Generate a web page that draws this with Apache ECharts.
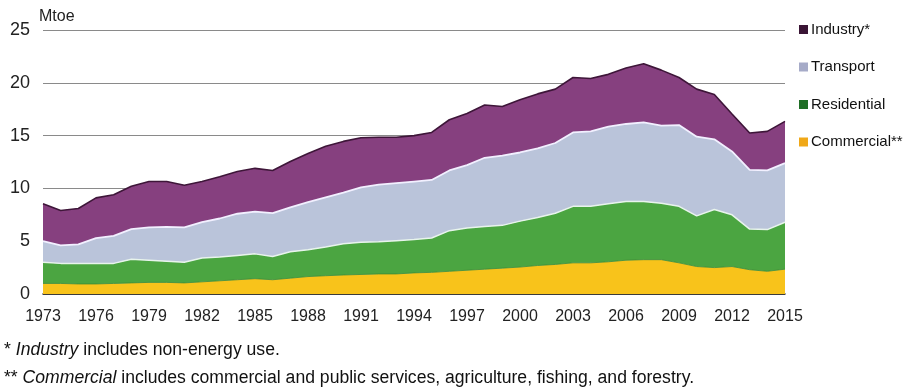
<!DOCTYPE html>
<html><head><meta charset="utf-8">
<script src="https://cdn.jsdelivr.net/npm/echarts@6/dist/echarts.min.js"></script>
<style>
html,body{margin:0;padding:0;background:#fff;}
#c{width:914px;height:392px;}
.fn{position:absolute;left:4px;font-family:"Liberation Sans Narrow","Arial Narrow","Liberation Sans",Arial,sans-serif;font-size:17.6px;color:#111;white-space:nowrap;}
</style></head><body>
<div id="c"></div>
<div class="fn" style="top:339px;">* <i>Industry</i> includes non-energy use.</div>
<div class="fn" style="top:367px;">** <i>Commercial</i> includes commercial and public services, agriculture, fishing, and forestry.</div>
<script>
const years = [];
for (let y = 1973; y <= 2015; y++) years.push(String(y));
const commercial = [1.0,1.0,0.95,0.95,1.0,1.05,1.1,1.1,1.05,1.15,1.25,1.35,1.45,1.35,1.5,1.65,1.73,1.8,1.85,1.9,1.9,2.0,2.05,2.15,2.25,2.35,2.45,2.55,2.7,2.8,2.95,2.95,3.05,3.2,3.25,3.25,2.95,2.6,2.5,2.6,2.3,2.15,2.35];
const residential = [2.0,1.9,1.95,1.95,1.9,2.25,2.1,2.0,1.95,2.25,2.25,2.3,2.35,2.2,2.5,2.55,2.72,2.95,3.05,3.05,3.15,3.15,3.25,3.85,4.0,4.05,4.05,4.35,4.55,4.85,5.35,5.35,5.5,5.55,5.5,5.35,5.35,4.8,5.5,4.9,3.85,3.95,4.45];
const transport = [2.0,1.7,1.8,2.4,2.6,2.85,3.1,3.25,3.3,3.4,3.65,3.95,4.0,4.1,4.2,4.5,4.7,4.85,5.2,5.4,5.45,5.5,5.5,5.7,5.95,6.5,6.6,6.5,6.55,6.65,7.0,7.1,7.3,7.35,7.5,7.35,7.7,7.5,6.65,6.0,5.6,5.6,5.6];
const industry = [3.55,3.3,3.4,3.8,3.9,4.05,4.35,4.3,4.0,3.85,3.95,4.0,4.1,4.05,4.35,4.6,4.85,4.85,4.7,4.5,4.35,4.35,4.5,4.8,4.9,5.0,4.65,5.0,5.15,5.1,5.2,5.0,4.95,5.3,5.55,5.25,4.5,4.5,4.25,3.55,3.5,3.7,3.95];
const yTicks = [0,5,10,15,20,25];

const font = '"Liberation Sans Narrow","Arial Narrow","Liberation Sans",Arial,sans-serif';
const chart = echarts.init(document.getElementById('c'), null, {renderer:'canvas'});
function area(name, data, fill, line, lw){
  return {name, type:'line', stack:'total', data, symbol:'none', smooth:false,
    lineStyle:{color:line, width:lw}, itemStyle:{color:fill},
    areaStyle:{color:fill, opacity:1}, emphasis:{disabled:true}, z:2};
}
chart.setOption({
  animation:false,
  grid:{left:43, right:129, top:30, bottom:98},
  legend:{orient:'vertical', left:794, top:17, itemGap:22.5, itemWidth:9, itemHeight:9,
    icon:'rect', textStyle:{fontFamily:font, fontSize:15, color:'#111', padding:[0,0,0,-2]},
    data:[
      {name:'Industry*', itemStyle:{color:'#3a1535'}},
      {name:'Transport', itemStyle:{color:'#a6abc8'}},
      {name:'Residential', itemStyle:{color:'#1f6e26'}},
      {name:'Commercial**', itemStyle:{color:'#f0a818'}}
    ]},
  xAxis:{type:'category', data:years, boundaryGap:false,
    axisLine:{lineStyle:{color:'#222', width:1.5}}, axisTick:{show:false},
    axisLabel:{interval:2, fontFamily:font, fontSize:16, color:'#222', margin:15},
    splitLine:{show:false}},
  yAxis:{type:'value', min:yTicks[0], max:yTicks[yTicks.length-1], interval:5,
    name:'Mtoe', nameLocation:'end', nameGap:5,
    nameTextStyle:{fontFamily:font, fontSize:16, color:'#222', align:'left', padding:[0,0,0,-4]},
    axisLine:{show:false}, axisTick:{show:false},
    axisLabel:{fontFamily:font, fontSize:18, color:'#222', margin:13},
    splitLine:{lineStyle:{color:'#8a8a8a', width:1}}},
  series:[
    area('Commercial**', commercial, '#f8c31b', '#3e8a35', 0.8),
    area('Residential', residential, '#4ba541', '#e8f4ec', 1.5),
    area('Transport', transport, '#bac4da', '#f2f0ff', 1.8),
    area('Industry*', industry, '#86407f', '#3e1639', 1.6)
  ]
});
</script>
</body></html>
